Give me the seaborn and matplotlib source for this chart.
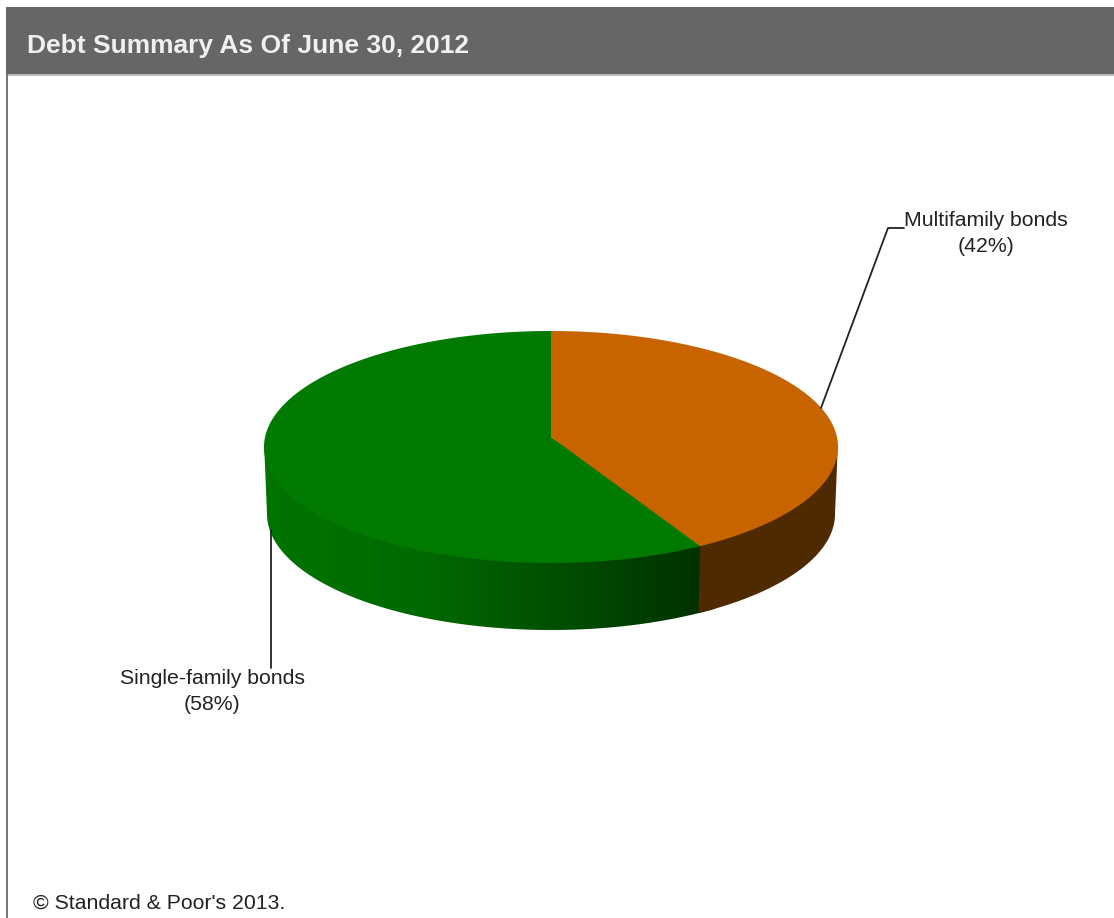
import numpy as np
import seaborn as sns
import matplotlib.pyplot as plt
from matplotlib.patches import Polygon, Rectangle

# Data
categories = ['Multifamily bonds', 'Single-family bonds']
shares = [42, 58]
title = 'Debt Summary As Of June 30, 2012'
footer = "\u00a9 Standard & Poor's 2013."

sns.set_theme(style='white')
plt.rcParams['font.family'] = ['Liberation Sans', 'DejaVu Sans']

top_colors = ['#c76400', '#007a00']
wall_orange = '#4f2900'
wall_greens = sns.blend_palette(['#007400', '#006a00', '#004c00', '#002c00'], as_cmap=True)

# Ellipse geometry of the fake 3D pie, in pixels
cx, cy, a, b = 551, 447, 287, 116
apex_y = 437
bx, by, ba, bb = 551, 514, 284, 116


def arc(t0, t1, x0=cx, y0=cy, rx=a, ry=b, n=200):
    # angles run clockwise from 12 o'clock
    t = np.radians(np.linspace(t0, t1, n))
    return np.column_stack([x0 + rx * np.sin(t), y0 - ry * np.cos(t)])


fig = plt.figure(figsize=(11.14, 9.18), dpi=100)
ax = fig.add_axes([0, 0, 1, 1])
ax.set_xlim(0, 1114)
ax.set_ylim(918, 0)
ax.axis('off')

# Header and left border
ax.add_patch(Rectangle((6, 7), 1108, 67, color='#666666', lw=0))
ax.add_patch(Rectangle((6, 74), 1108, 2, color='#bbbbbb', lw=0))
ax.add_patch(Rectangle((6, 74), 2, 844, color='#777777', lw=0))
ax.text(27, 46, title, color='#f0f0f0', fontsize=19, fontweight='bold', va='center', ha='left')

# Slice angles from the shares
split = 360 * shares[0] / sum(shares)
wall_t0 = split - 2.5

# Side wall: green part with horizontal gradient, clipped to the wall shape.
# Image and clip both run past the split so the orange wall covers the join.
front = arc(wall_t0 - 4, 270, y0=cy - 6)
back = arc(270, wall_t0 - 4, bx, by, ba, bb)
clip = Polygon(np.vstack([front, back]), transform=ax.transData, fc='none', lw=0)
ax.add_patch(clip)
gradient = np.linspace(0, 1, 256).reshape(1, -1)
img = ax.imshow(gradient, cmap=wall_greens, extent=[264, 725, 640, 430], aspect='auto', zorder=2)
img.set_clip_path(clip)
ax.set_xlim(0, 1114)
ax.set_ylim(918, 0)

# Side wall: orange part, pulled up under the top face so no seam shows
front = arc(90, wall_t0, y0=cy - 6)
back = arc(wall_t0, 90, bx, by, ba, bb)
ax.add_patch(Polygon(np.vstack([front, back]), color=wall_orange, lw=0, zorder=2.5))

# Top face: green slice runs slightly under the orange one
green_top = np.vstack([[[cx, apex_y]], arc(wall_t0 - 2, 362)])
ax.add_patch(Polygon(green_top, color=top_colors[1], lw=0, zorder=3))
orange_top = np.vstack([[[cx, apex_y]], arc(0, wall_t0)])
ax.add_patch(Polygon(orange_top, color=top_colors[0], lw=0, zorder=3.5))

# Leader lines
ax.plot([821, 888, 904], [408, 228, 228], color='#222222', lw=1.3, zorder=4)
ax.plot([271, 271], [530, 668], color='#222222', lw=1.3, zorder=4)

# Labels
label_pos = [(986, 221), (212, 679)]
for name, pct, (x, y) in zip(categories, shares, label_pos):
    ax.text(x, y, name, fontsize=15.3, color='#222222', ha='center', va='center')
    ax.text(x, y + 26, f'({pct}%)', fontsize=15.3, color='#222222', ha='center', va='center')

ax.text(33, 903, footer, fontsize=15.3, color='#222222', ha='left', va='center')

fig.savefig('out.png', dpi=100)
